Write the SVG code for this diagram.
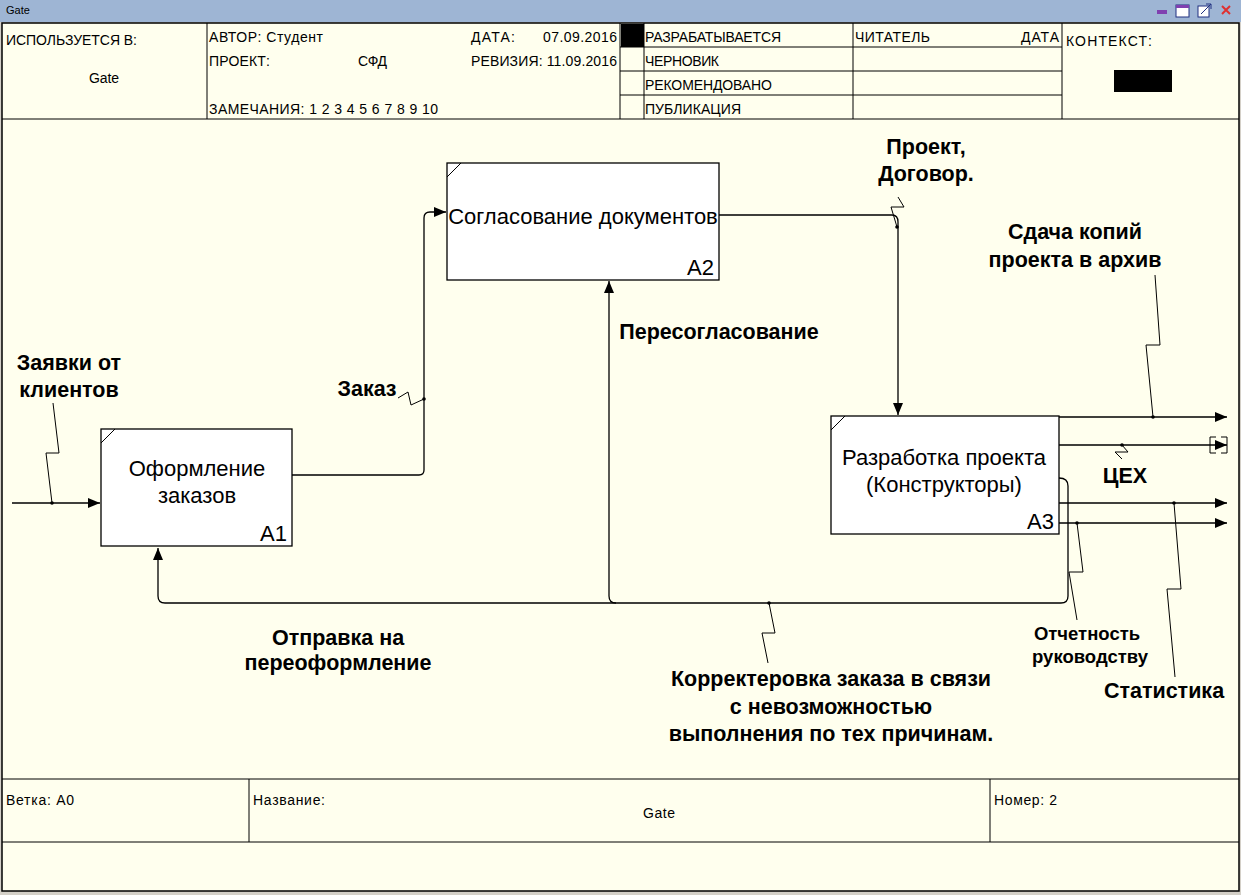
<svg xmlns="http://www.w3.org/2000/svg" width="1241" height="895" viewBox="0 0 1241 895">
<defs>
<marker id="arr" markerWidth="12" markerHeight="10" refX="12" refY="5" orient="auto" markerUnits="userSpaceOnUse">
<path d="M0,0 L12,5 L0,10 Z" fill="#000"/>
</marker>
<style>
.hd{font-family:"Liberation Sans",Arial,sans-serif;font-size:14px;fill:#000}
.bx{font-family:"Liberation Sans",Arial,sans-serif;font-size:22px;fill:#000}
.lb{font-family:"Liberation Sans",Arial,sans-serif;font-size:21.5px;font-weight:bold;fill:#000}
.lbs{font-family:"Liberation Sans",Arial,sans-serif;font-size:18.5px;font-weight:bold;fill:#000}
.ln{stroke:#000;stroke-width:1;fill:none}
.con{stroke:#000;stroke-width:1.3;fill:none}
.box{fill:#fff;stroke:#000;stroke-width:1.3}
</style>
</defs>
<rect x="0" y="0" width="1241" height="895" fill="#d4d0c8"/>
<rect x="0" y="0" width="1241" height="22" fill="#9eb5d4"/>
<text x="6" y="14" font-family="Liberation Sans,Arial,sans-serif" font-size="11" fill="#000">Gate</text>
<g id="winbtns">
<rect x="1157" y="10" width="10" height="4" fill="#8040b0"/>
<rect x="1176" y="5" width="13" height="12" fill="#fff" stroke="#203080"/>
<rect x="1176" y="5" width="13" height="3" fill="#8040b0"/>
<rect x="1198" y="6" width="11" height="11" fill="#fff" stroke="#203080"/>
<path d="M1201,14 L1211,4 M1206,4 H1211 V9" stroke="#203080" fill="none"/>
<path d="M1222,6 L1230,14 M1230,6 L1222,14" stroke="#e03030" stroke-width="2"/>
</g>
<rect x="2" y="23" width="1237" height="868" fill="#ffffee" stroke="#000" stroke-width="1.5"/>
<g id="header">
<line class="ln" x1="2" y1="119" x2="1239" y2="119" stroke-width="1.5"/>
<line class="ln" x1="207" y1="23" x2="207" y2="119"/>
<line class="ln" x1="620" y1="23" x2="620" y2="119"/>
<line class="ln" x1="644" y1="23" x2="644" y2="119"/>
<line class="ln" x1="853" y1="23" x2="853" y2="119"/>
<line class="ln" x1="1062" y1="23" x2="1062" y2="119"/>
<line class="ln" x1="620" y1="47" x2="1062" y2="47"/>
<line class="ln" x1="620" y1="71" x2="1062" y2="71"/>
<line class="ln" x1="620" y1="95" x2="1062" y2="95"/>
<rect x="621" y="24" width="23" height="23" fill="#000"/>
<rect x="1114" y="70" width="58" height="22" fill="#000"/>
<text class="hd" x="6" y="45" textLength="131">ИСПОЛЬЗУЕТСЯ В:</text>
<text class="hd" x="89" y="83" textLength="30">Gate</text>
<text class="hd" x="209" y="42" textLength="114">АВТОР: Студент</text>
<text class="hd" x="471" y="42" textLength="44">ДАТА:</text>
<text class="hd" x="543" y="42" textLength="74">07.09.2016</text>
<text class="hd" x="209" y="66" textLength="61">ПРОЕКТ:</text>
<text class="hd" x="358" y="66" textLength="29">СФД</text>
<text class="hd" x="471" y="66" textLength="146">РЕВИЗИЯ: 11.09.2016</text>
<text class="hd" x="209" y="114" textLength="229">ЗАМЕЧАНИЯ:  1 2 3 4 5 6 7 8 9 10</text>
<text class="hd" x="645" y="42" textLength="136">РАЗРАБАТЫВАЕТСЯ</text>
<text class="hd" x="855" y="42" textLength="75">ЧИТАТЕЛЬ</text>
<text class="hd" x="1021" y="42" textLength="38">ДАТА</text>
<text class="hd" x="645" y="66" textLength="74">ЧЕРНОВИК</text>
<text class="hd" x="645" y="90" textLength="127">РЕКОМЕНДОВАНО</text>
<text class="hd" x="645" y="114" textLength="96">ПУБЛИКАЦИЯ</text>
<text class="hd" x="1066" y="46" textLength="86">КОНТЕКСТ:</text>
</g>
<g id="footer">
<line class="ln" x1="2" y1="779" x2="1239" y2="779" stroke-width="1.5"/>
<line class="ln" x1="2" y1="842" x2="1239" y2="842" stroke-width="1.5"/>
<line class="ln" x1="249" y1="779" x2="249" y2="842"/>
<line class="ln" x1="990" y1="779" x2="990" y2="842"/>
<text class="hd" x="6" y="805" textLength="68">Ветка: A0</text>
<text class="hd" x="253" y="805" textLength="72">Название:</text>
<text class="hd" x="643" y="818" textLength="32">Gate</text>
<text class="hd" x="994" y="805" textLength="63">Номер: 2</text>
</g>
<g id="connectors">
<path class="con" d="M12,503 H100" marker-end="url(#arr)"/>
<path class="con" d="M292,475 H419 Q424,475 424,470 V218 Q424,212 430,212 H446" marker-end="url(#arr)"/>
<path class="con" d="M719,215 H892 Q898,215 898,222 V415" marker-end="url(#arr)"/>
<path class="con" d="M1059,417 H1227" marker-end="url(#arr)"/>
<path class="con" d="M1059,445 H1227" marker-end="url(#arr)"/>
<path class="con" d="M1059,503 H1227" marker-end="url(#arr)"/>
<path class="con" d="M1059,523 H1227" marker-end="url(#arr)"/>
<path class="ln" d="M1216,437 H1210 V453 H1216 M1221,437 H1227 V453 H1221"/>
<path class="con" d="M1059,478 Q1068,478 1068,486 V596 Q1068,603 1061,603 H165 Q158,603 158,596 V548" marker-end="url(#arr)"/>
<path class="con" d="M616,603 Q609,603 609,596 V281" marker-end="url(#arr)"/>
<path class="ln" d="M53,403 L59,453 L46,453 L52,503"/>
<path class="ln" d="M398,398 L408,392 L411,405 L424,399"/>
<path class="ln" d="M898,197 L904,207 L891,207 L897,227"/>
<path class="ln" d="M1155,275 L1160,345 L1146,345 L1153,417"/>
<path class="ln" d="M1122,445 L1128,452 L1115,452 L1122,459"/>
<path class="ln" d="M1174,503 L1181,589 L1167,589 L1175,677"/>
<path class="ln" d="M1077,523 L1083,572 L1069,572 L1077,620"/>
<path class="ln" d="M769,603 L775,633 L762,633 L768,663"/>
<circle cx="52" cy="503" r="1.8"/>
<circle cx="424" cy="399" r="1.8"/>
<circle cx="897" cy="227" r="1.8"/>
<circle cx="1153" cy="417" r="1.8"/>
<circle cx="1122" cy="445" r="1.8"/>
<circle cx="1174" cy="503" r="1.8"/>
<circle cx="1077" cy="523" r="1.8"/>
<circle cx="769" cy="603" r="1.8"/>
<text class="lb" x="69" y="370" text-anchor="middle">Заявки от</text>
<text class="lb" x="69" y="397" text-anchor="middle">клиентов</text>
<text class="lb" x="367" y="396" text-anchor="middle">Заказ</text>
<text class="lb" x="926" y="154" text-anchor="middle">Проект,</text>
<text class="lb" x="926" y="181" text-anchor="middle">Договор.</text>
<text class="lb" x="1075" y="239" text-anchor="middle">Сдача копий</text>
<text class="lb" x="1075" y="267" text-anchor="middle">проекта в архив</text>
<text class="lb" x="719" y="339" text-anchor="middle">Пересогласование</text>
<text class="lb" x="1125" y="483" text-anchor="middle">ЦЕХ</text>
<text class="lbs" x="1087" y="640" text-anchor="middle">Отчетность</text>
<text class="lbs" x="1090" y="663" text-anchor="middle">руководству</text>
<text class="lb" x="1164" y="698" text-anchor="middle">Статистика</text>
<text class="lb" x="338" y="645" text-anchor="middle">Отправка на</text>
<text class="lb" x="338" y="670" text-anchor="middle">переоформление</text>
<text class="lb" x="831" y="686" text-anchor="middle">Корректеровка заказа в связи</text>
<text class="lb" x="831" y="714" text-anchor="middle">с невозможностью</text>
<text class="lb" x="831" y="741" text-anchor="middle">выполнения по тех причинам.</text>
</g>
<g id="A1">
<rect class="box" x="101" y="429" width="191" height="117"/>
<line class="ln" x1="101" y1="443" x2="115" y2="429"/>
<text class="bx" x="197" y="476" text-anchor="middle">Оформление</text>
<text class="bx" x="197" y="503" text-anchor="middle">заказов</text>
<text class="bx" x="287" y="541" text-anchor="end">A1</text>
</g>
<g id="A2">
<rect class="box" x="447" y="163" width="272" height="117"/>
<line class="ln" x1="447" y1="177" x2="461" y2="163"/>
<text class="bx" x="583" y="224" text-anchor="middle">Согласование документов</text>
<text class="bx" x="714" y="275" text-anchor="end">A2</text>
</g>
<g id="A3">
<rect class="box" x="831" y="416" width="228" height="118"/>
<line class="ln" x1="831" y1="430" x2="845" y2="416"/>
<text class="bx" x="944" y="465" text-anchor="middle">Разработка проекта</text>
<text class="bx" x="944" y="492" text-anchor="middle">(Конструкторы)</text>
<text class="bx" x="1054" y="529" text-anchor="end">A3</text>
</g>
</svg>
